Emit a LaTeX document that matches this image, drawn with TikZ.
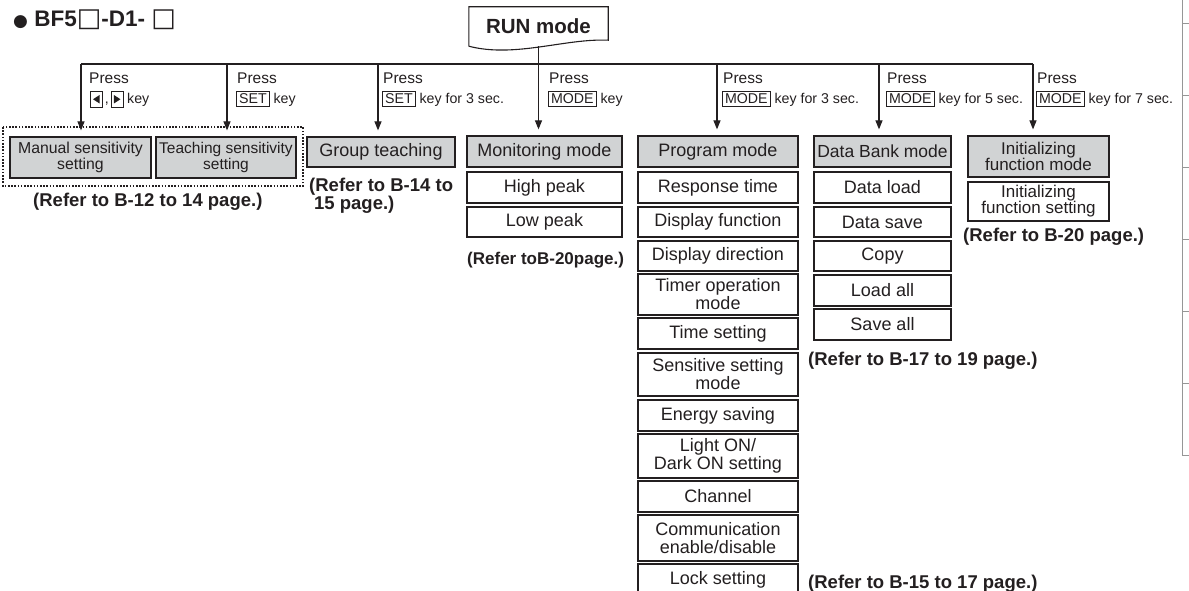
\documentclass[tikz,border=0pt]{standalone}
\usepackage{fontspec}
\setmainfont{Liberation Sans}
\newfontfamily\dejavu{DejaVu Sans}
\usetikzlibrary{arrows.meta}
\definecolor{boxgray}{RGB}{209,211,212}
\definecolor{ink}{RGB}{35,31,32}
\definecolor{edge}{RGB}{150,150,150}
\newcommand\kb[1]{{\setlength\fboxsep{2.2pt}\setlength\fboxrule{0.7pt}\fbox{#1}}}
\newcommand\lkey{\tikz[baseline=0pt,x=1pt,y=1pt,line width=0.7pt]{\draw[ink] (0,-3.5) rectangle (11.5,13); \fill[ink] (2.5,4.75) -- (9,0.5) -- (9,9) -- cycle;}}
\newcommand\rkey{\tikz[baseline=0pt,x=1pt,y=1pt,line width=0.7pt]{\draw[ink] (0,-3.5) rectangle (11.5,13); \fill[ink] (9,4.75) -- (2.5,0.5) -- (2.5,9) -- cycle;}}
\begin{document}
\begin{tikzpicture}[x=1pt,y=-1pt,
  every node/.style={text=ink},
  gbox/.style={draw=ink, line width=1.2pt, fill=boxgray, inner sep=0pt, align=center, font=\fontsize{18}{18}\selectfont},
  wbox/.style={gbox, fill=white},
  wire/.style={draw=ink, line width=1.1pt},
  arr/.style={wire, -{Triangle[width=7pt,length=9pt]}, shorten >=6pt},
  lbl/.style={anchor=base west, inner sep=0pt, font=\fontsize{15.5}{15.5}\selectfont},
  klbl/.style={anchor=base west, inner sep=0pt, font=\fontsize{14.2}{14.2}\selectfont},
  ref/.style={anchor=base west, inner sep=0pt, font=\bfseries\fontsize{18.5}{19}\selectfont}]
\useasboundingbox (0,0) rectangle (1189,591);

% title
\node[anchor=base west, inner sep=0pt, font=\bfseries\fontsize{22.5}{22.5}\selectfont] (title) at (13,27)
  {{\dejavu\fontsize{17}{17}\selectfont●} BF5{\dejavu\fontsize{26}{26}\selectfont□}-D1- {\dejavu\fontsize{26}{26}\selectfont□}};

% RUN mode
\node[inner sep=0pt, minimum width=139pt, minimum height=39pt, font=\bfseries\fontsize{20.5}{20.5}\selectfont] (run) at (538.5,26.5) {RUN mode};
\draw[wire] (run.south west) -- (run.north west) -- (run.north east) -- ([yshift=6pt]run.south east)
  .. controls ([xshift=-43pt,yshift=8pt]run.south east) and ([xshift=46pt,yshift=-12pt]run.south west) .. (run.south west);

% mode boxes
\node[gbox, minimum width=141pt, minimum height=41pt, font=\fontsize{15.8}{16.5}\selectfont] (man) at (80.5,157.5) {Manual sensitivity\\setting};
\node[gbox, minimum width=140pt, minimum height=41pt, font=\fontsize{15.5}{16.5}\selectfont] (teach) at (226,157.5) {Teaching sensitivity\\setting};
\node[gbox, minimum width=148pt, minimum height=30pt] (group) at (381,152) {Group teaching};
\node[gbox, minimum width=155pt, minimum height=31pt] (mon) at (544.5,151.5) {Monitoring mode};
\node[gbox, minimum width=160pt, minimum height=31pt] (prog) at (718,151.5) {Program mode};
\node[gbox, minimum width=137pt, minimum height=31pt, font=\fontsize{17.5}{17.5}\selectfont] (bank) at (882.5,151.5) {Data Bank mode};
\node[gbox, minimum width=141pt, minimum height=41pt, font=\fontsize{17}{16}\selectfont] (init) at (1038.5,156.5) {Initializing\\function mode};
\node[wbox, minimum width=141pt, minimum height=39pt, font=\fontsize{17}{16}\selectfont] (initset) at (1038.5,201.5) {Initializing\\function setting};

% dotted group
\draw[ink, line width=1.3pt, dash pattern=on 1.6pt off 1.6pt] (3,127) rectangle (303,186);

% monitoring children
\node[wbox, minimum width=155pt, minimum height=31pt] (hp) at (544.5,187.5) {High peak};
\node[wbox, minimum width=155pt, minimum height=30pt] (lp) at (544.5,222) {Low peak};

% program children
\node[wbox, minimum width=160pt, minimum height=31pt] (rt) at (718,187.5) {Response time};
\node[wbox, minimum width=160pt, minimum height=30pt] (df) at (718,222) {Display function};
\node[wbox, minimum width=160pt, minimum height=30pt] (dd) at (718,256) {Display direction};
\node[wbox, minimum width=160pt, minimum height=41pt] (tom) at (718,294.5) {Timer operation\\mode};
\node[wbox, minimum width=160pt, minimum height=31pt] (ts) at (718,333.5) {Time setting};
\node[wbox, minimum width=160pt, minimum height=43pt] (ssm) at (718,374.5) {Sensitive setting\\mode};
\node[wbox, minimum width=160pt, minimum height=31pt] (es) at (718,415.5) {Energy saving};
\node[wbox, minimum width=160pt, minimum height=44pt] (lo) at (718,456) {Light ON/\\Dark ON setting};
\node[wbox, minimum width=160pt, minimum height=31pt] (ch) at (718,496.5) {Channel};
\node[wbox, minimum width=160pt, minimum height=46pt] (ce) at (718,538) {Communication\\enable/disable};
\node[wbox, minimum width=160pt, minimum height=32pt] (ls) at (718,580) {Lock setting};

% data bank children
\node[wbox, minimum width=137pt, minimum height=31pt] (dl) at (882.5,187.5) {Data load};
\node[wbox, minimum width=137pt, minimum height=30pt] (dsv) at (882.5,222) {Data save};
\node[wbox, minimum width=137pt, minimum height=30pt] (cp) at (882.5,256) {Copy};
\node[wbox, minimum width=137pt, minimum height=31pt] (la) at (882.5,290.5) {Load all};
\node[wbox, minimum width=137pt, minimum height=31pt] (sa) at (882.5,324.5) {Save all};

% bus and arrows
\coordinate (b1) at (81,64);
\coordinate (b2) at (227,64);
\coordinate (b3) at (378,64);
\coordinate (b4) at (538.5,64);
\coordinate (b5) at (717,64);
\coordinate (b6) at (879,64);
\coordinate (b7) at (1033,64);
\draw[wire] (b1) -- (b7);
\draw[wire] (run.south) -- (b4);
\draw[arr] (b1) -- (b1 |- man.north);
\draw[arr] (b2) -- (b2 |- teach.north);
\draw[arr] (b3) -- (b3 |- group.north);
\draw[arr] (b4) -- (b4 |- mon.north);
\draw[arr] (b5) -- (b5 |- prog.north);
\draw[arr] (b6) -- (b6 |- bank.north);
\draw[arr] (b7) -- (b7 |- init.north);

% press labels
\node[lbl] (p1) at (89,84) {Press};
\node[klbl] (k1) at (90,104) {\lkey\,,\,\rkey\ key};
\node[lbl] (p2) at (237,84) {Press};
\node[klbl] (k2) at (236,104) {\kb{SET} key};
\node[lbl] (p3) at (383,84) {Press};
\node[klbl] (k3) at (382,104) {\kb{SET} key for 3 sec.};
\node[lbl] (p4) at (549,84) {Press};
\node[klbl] (k4) at (548,104) {\kb{MODE} key};
\node[lbl] (p5) at (723,84) {Press};
\node[klbl] (k5) at (722,104) {\kb{MODE} key for 3 sec.};
\node[lbl] (p6) at (887,84) {Press};
\node[klbl] (k6) at (886,104) {\kb{MODE} key for 5 sec.};
\node[lbl] (p7) at (1037,84) {Press};
\node[klbl] (k7) at (1036,104) {\kb{MODE} key for 7 sec.};

% references
\node[ref] (r1) at (33,207) {(Refer to B-12 to 14 page.)};
\node[anchor=north west, inner sep=0pt, align=left, font=\bfseries\fontsize{18.5}{16}\selectfont] (r2) at (309,177.5) {(Refer to B-14 to\\\hspace*{5pt}15 page.)};
\node[ref, font=\bfseries\fontsize{17}{17}\selectfont] (r3) at (467,264) {(Refer toB-20page.)};
\node[ref] (r4) at (808,365) {(Refer to B-17 to 19 page.)};
\node[ref] (r5) at (808,588) {(Refer to B-15 to 17 page.)};
\node[ref] (r6) at (963,241) {(Refer to B-20 page.)};

% page edge marks
\draw[edge, line width=0.9pt] (1182,0) -- (1182,455) -- (1189,455);
\foreach \yy in {23,95,167,239,311,383} \draw[edge, line width=0.9pt] (1182,\yy) -- (1189,\yy);
\end{tikzpicture}
\end{document}
